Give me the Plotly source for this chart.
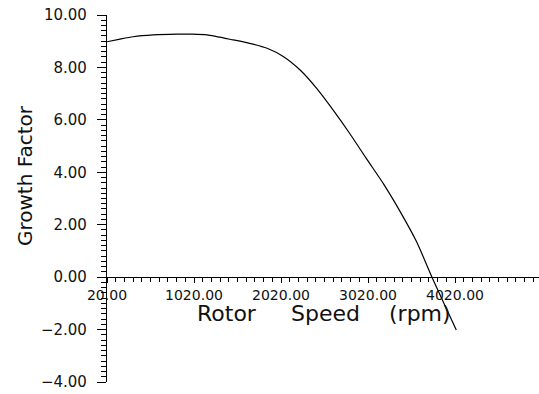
import plotly.graph_objects as go

# Data
rotor_speed = [20, 170, 320, 550, 820, 1000, 1170, 1470, 1660, 1860, 2050,
               2240, 2430, 2620, 2810, 3000, 3200, 3390, 3580, 3755, 3900, 4035]
growth_factor = [8.98, 9.08, 9.17, 9.24, 9.27, 9.27, 9.24, 9.05, 8.92, 8.73, 8.41,
                 7.90, 7.20, 6.37, 5.48, 4.53, 3.55, 2.50, 1.34, 0.0, -1.05, -2.02]

x_tick_vals = [20, 1020, 2020, 3020, 4020]
x_tick_text = ["20.00", "1020.00", "2020.00", "3020.00", "4020.00"]
y_tick_vals = [-4, -2, 0, 2, 4, 6, 8, 10]

x_title_words = ["Rotor", "Speed", "(rpm)"]
y_title = "Growth Factor"

FONT = "DejaVu Sans"

W, H = 539, 394
L, T, B = 107, 15, 12
PW, PH = W - L, H - T - B

fig = go.Figure()
fig.add_trace(go.Scatter(
    x=rotor_speed, y=growth_factor, mode="lines",
    line=dict(color="black", width=1.2, shape="spline", smoothing=0.6),
    hoverinfo="skip", showlegend=False,
))

fig.update_layout(
    width=W, height=H,
    margin=dict(l=L, r=0, t=T, b=B, autoexpand=False),
    paper_bgcolor="white", plot_bgcolor="white",
    font=dict(family=FONT, color="#111", size=14),
    showlegend=False,
)

fig.update_xaxes(
    range=[20, 20 + PW / 0.087],
    anchor="free", position=4 / 14,
    showline=True, linecolor="black", linewidth=1.2,
    showgrid=False, zeroline=False,
    ticks="outside", ticklen=5, tickwidth=1, tickcolor="black",
    tickvals=x_tick_vals, ticktext=x_tick_text,
    tickfont=dict(family=FONT, size=14, color="#111"),
    ticklabeloverflow="allow",
    minor=dict(ticks="outside", ticklen=4, tickwidth=1, tickcolor="black",
               tick0=20, dtick=100, showgrid=False),
)

fig.update_yaxes(
    range=[-4, 10],
    showline=True, linecolor="black", linewidth=1.2,
    showgrid=False, zeroline=False,
    ticks="outside", ticklen=9, tickwidth=1, tickcolor="black",
    tickvals=y_tick_vals, tickformat=".2f",
    ticklabelstandoff=7,
    ticklabeloverflow="allow",
    tickfont=dict(family=FONT, size=15, color="#111"),
    minor=dict(ticks="outside", ticklen=5, tickwidth=1, tickcolor="black",
               tick0=0, dtick=0.2, showgrid=False),
)


def px_x(sx):
    return (sx - L) / PW


def px_y(sy):
    return (H - B - sy) / PH


# x-axis title, word by word (wide spacing as in the reference)
for word, cx in zip(x_title_words, [227, 325, 420]):
    fig.add_annotation(
        text=word, xref="paper", yref="paper",
        x=px_x(cx), y=px_y(313),
        xanchor="center", yanchor="middle", showarrow=False,
        font=dict(family=FONT, size=22, color="#111"),
    )

fig.add_annotation(
    text=y_title, xref="paper", yref="paper",
    x=px_x(25), y=px_y(176),
    xanchor="center", yanchor="middle", textangle=-90, showarrow=False,
    font=dict(family=FONT, size=20, color="#111"),
)

fig.write_html(
    "out.html",
    config={"displayModeBar": False},
    post_script="document.body.style.margin='0';document.body.style.overflow='hidden';",
)
